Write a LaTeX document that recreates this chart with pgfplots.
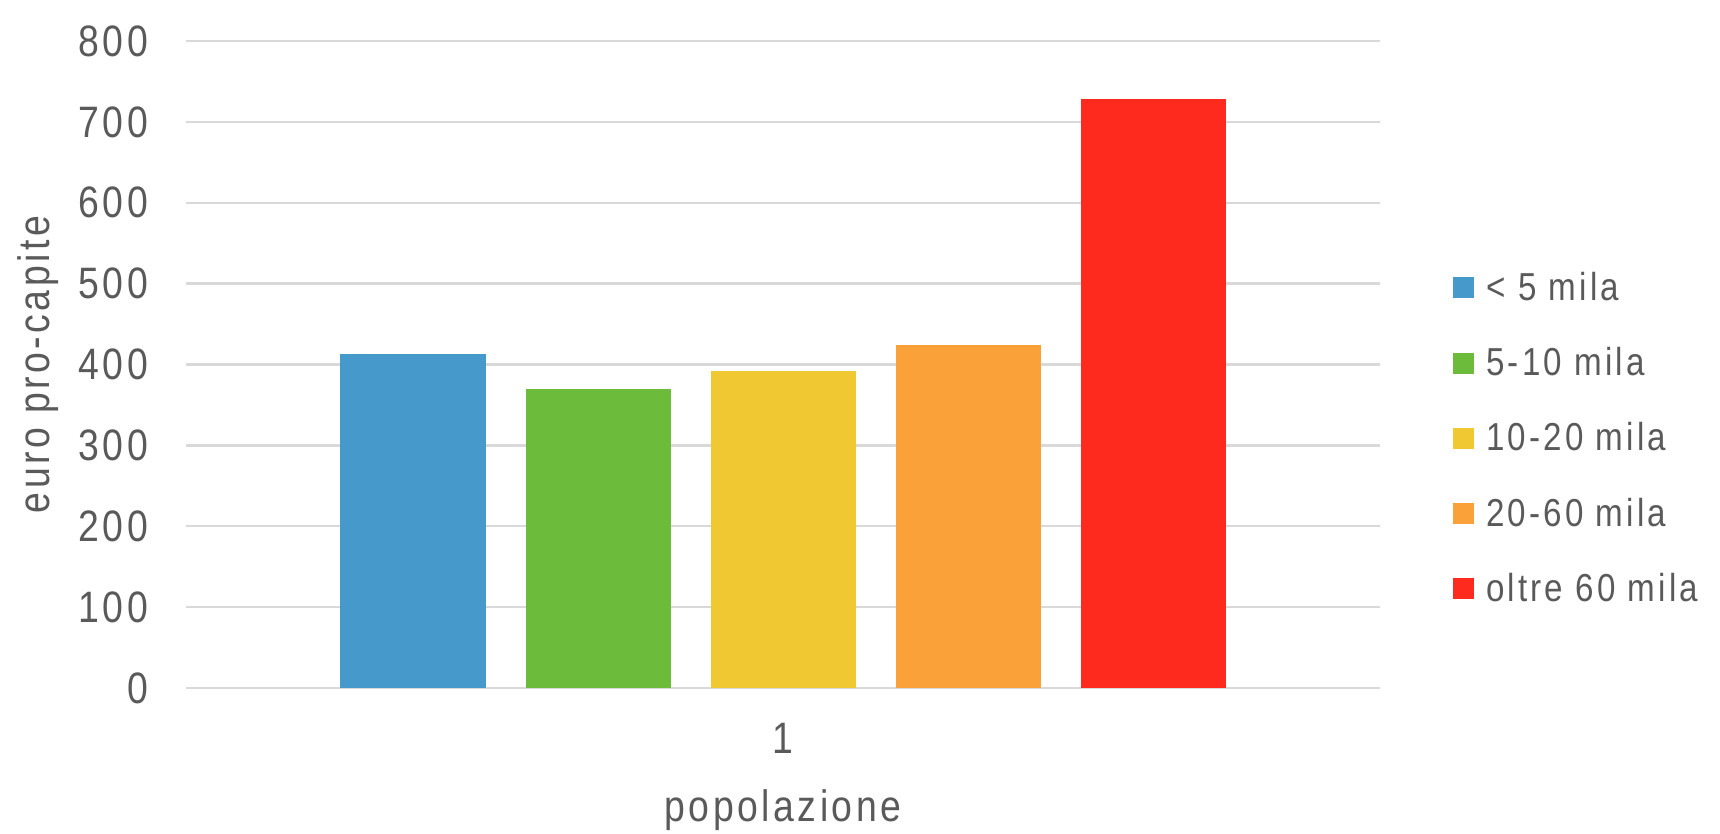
\documentclass[border=0pt]{standalone}
\usepackage{fontspec}
\setmainfont{Liberation Sans}[FakeStretch=0.85, LetterSpace=8]
\usepackage{pgfplots}
\pgfplotsset{compat=1.18}

\definecolor{cblue}{HTML}{4599CB}
\definecolor{cgreen}{HTML}{6DBB3A}
\definecolor{cyellow}{HTML}{F0C932}
\definecolor{corange}{HTML}{FBA13A}
\definecolor{cred}{HTML}{FF2A1E}
\definecolor{gridgray}{HTML}{D9D9D9}
\definecolor{txtgray}{HTML}{5A5A5A}

\newcommand{\chartfont}{\fontsize{22bp}{26bp}\selectfont}
\newcommand{\legfont}{\fontsize{19.5bp}{23bp}\selectfont}

\begin{document}
\begin{tikzpicture}
\path[use as bounding box] (-93.25bp,-73bp) rectangle (766.75bp,344bp);
\begin{axis}[
  at={(0,0)}, anchor=south west, scale only axis,
  width=596.5bp, height=323.5bp,
  xmin=0, xmax=2, ymin=0, ymax=800,
  ybar=20bp, bar width=72.5bp,
  xtick={1}, ytick distance=100,
  ymajorgrids, grid style={draw=gridgray, line width=1.2bp},
  axis line style={draw=none}, major tick length=0pt,
  /pgf/number format/assume math mode=true,
  every tick label/.append style={font=\chartfont, text=txtgray},
  yticklabel style={anchor=east, inner sep=0pt, xshift=-19bp},
  xticklabel style={anchor=center, inner sep=0pt, yshift=-25bp},
  label style={font=\chartfont, text=txtgray},
  xlabel={popolazione},
  xlabel style={at={(axis description cs:0.5,0)}, anchor=center, yshift=-61bp},
  ylabel={euro pro-capite},
  ylabel style={at={(axis description cs:-0.1245,0.5)}, anchor=center},
  legend style={draw=none, fill=none, at={(1,0.386)}, anchor=west, xshift=36.75bp,
    font=\legfont, text=txtgray, row sep=22bp, inner sep=0pt,
    nodes={inner sep=0pt},
    /tikz/every odd column/.append style={column sep=6bp}},
  legend cell align=left,
  legend image code/.code={\fill[#1, draw=none] (0bp,-5.25bp) rectangle (10.5bp,5.25bp);},
]
\addplot[fill=cblue, draw=none] coordinates {(1,413)};
\addplot[fill=cgreen, draw=none] coordinates {(1,370)};
\addplot[fill=cyellow, draw=none] coordinates {(1,392)};
\addplot[fill=corange, draw=none] coordinates {(1,424)};
\addplot[fill=cred, draw=none] coordinates {(1,728)};
\legend{< 5 mila, 5-10 mila, 10-20 mila, 20-60 mila, oltre 60 mila}
\end{axis}
\end{tikzpicture}
\end{document}
